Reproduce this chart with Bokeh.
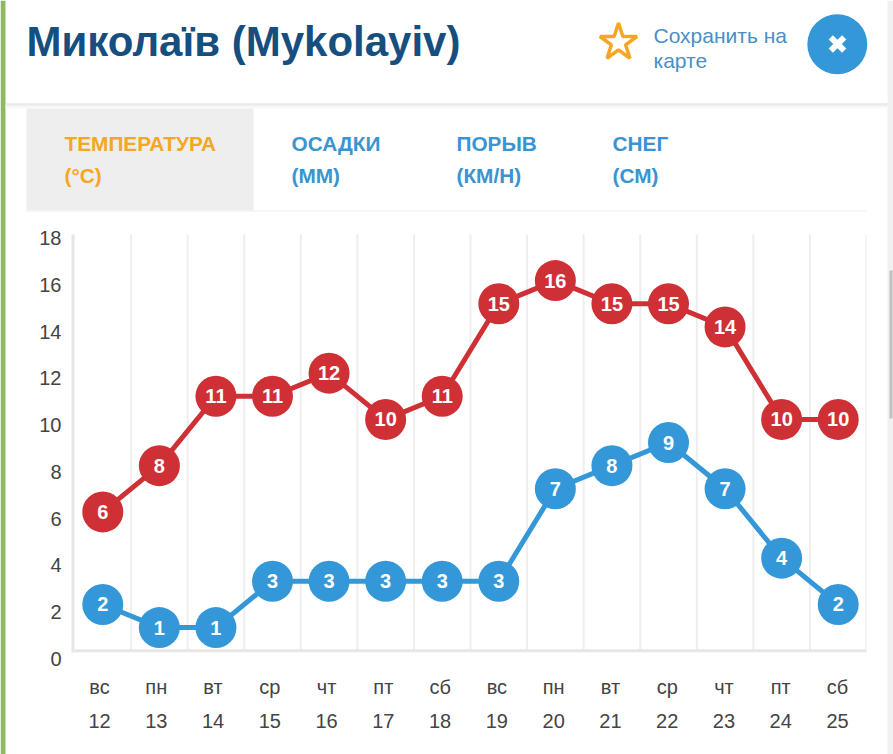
from bokeh.plotting import figure
from bokeh.layouts import column
from bokeh.embed import file_html
from bokeh.resources import INLINE
from bokeh.core.properties import value
from bokeh.models import ColumnDataSource, Range1d, LinearAxis, FixedTicker

# ---- data ----
days = ["вс", "пн", "вт", "ср", "чт", "пт", "сб", "вс", "пн", "вт", "ср", "чт", "пт", "сб"]
dates = ["12", "13", "14", "15", "16", "17", "18", "19", "20", "21", "22", "23", "24", "25"]
temp_max = [6, 8, 11, 11, 12, 10, 11, 15, 16, 15, 15, 14, 10, 10]
temp_min = [2, 1, 1, 3, 3, 3, 3, 3, 7, 8, 9, 7, 4, 2]
y_ticks = [0, 2, 4, 6, 8, 10, 12, 14, 16, 18]
title = "Миколаїв (Mykolayiv)"
save_lines = ["Сохранить на", "карте"]
tabs = [("ТЕМПЕРАТУРА", "(°C)"), ("ОСАДКИ", "(ММ)"), ("ПОРЫВ", "(КМ/Н)"), ("СНЕГ", "(СМ)")]

RED = "#cf3035"
BLUE = "#3498d8"
ORANGE = "#f5a623"
TAB_BLUE = "#3a94d0"
NAVY = "#164e80"
GRID = "#eeeeee"
AXIS = "#e6e6e6"
TXT = "#444444"
FONT = "Liberation Sans"

W, H = 893, 754
F_L, F_R, F_T, F_B = 74, 866, 234, 662     # frame edges in canvas pixels
Y0_PX, PX_PER_UNIT = 650.2, 23.13
YLAB_0, YLAB_18 = 658.5, 237.5             # pixel rows of the first and last y tick label
n = len(days)

# ---- page chrome: a full-page figure in pixel coordinates ----
bg = figure(width=W, height=H, output_backend="svg", toolbar_location=None,
            x_axis_location=None, y_axis_location=None,
            x_range=Range1d(0, W), y_range=Range1d(H, 0),
            min_border=0, outline_line_color=None, frame_align=False,
            background_fill_color="white", border_fill_color="white")
bg.grid.visible = False


def box(l, r, t, b, col):
    bg.quad(left=[l], right=[r], top=[t], bottom=[b], fill_color=col, line_color=None)


def text(s, px, py, size, col, bold=False, align="left"):
    bg.text([px], [py], text=[s], text_font=value(FONT), text_font_size=f"{size}px",
            text_color=col, text_font_style="bold" if bold else "normal",
            text_align=align, text_baseline="middle")


box(0, 5, 0, H, "#8fb85f")
box(887, W, 0, H, "#f1f1f1")
box(889, 892, 270, 418, "#c1c1c1")
for i, c in enumerate(["#dddddd", "#e6e6e6", "#eeeeee", "#f5f5f5", "#fafafa"]):
    box(5, 887, 103 + i, 104 + i, c)
box(26, 253, 108, 210, "#eeeeee")
box(26, 866, 210, 211, "#eeeeee")
box(71, 74, 234, 652, AXIS)

text(title, 26, 41, 42, NAVY, bold=True)
text(save_lines[0], 653, 34.5, 21, "#4a8fc5")
text(save_lines[1], 653, 59.5, 21, "#4a8fc5")
bg.scatter([836.8], [43.8], marker="circle", size=60, fill_color=BLUE, line_color=None)
bg.scatter([837], [43.5], marker="x", size=19, fill_color=None, line_color="white", line_width=6)
bg.scatter([618], [42], marker="star", size=39, fill_color=None, line_color=ORANGE, line_width=3.5)
for (a1, a2), tx, col in zip(tabs, (64, 291, 456, 612), (ORANGE, TAB_BLUE, TAB_BLUE, TAB_BLUE)):
    text(a1, tx, 143, 20.8, col, bold=True)
    text(a2, tx, 175, 20.8, col, bold=True)

# ---- the chart, transparent, on top of the page ----
x = list(range(n))
p = figure(width=W, height=H, output_backend="svg", toolbar_location=None,
           x_axis_location=None, y_axis_location=None,
           x_range=Range1d(-0.5, n - 0.5),
           y_range=Range1d(-(F_B - Y0_PX) / PX_PER_UNIT, (Y0_PX - F_T) / PX_PER_UNIT),
           min_border_left=F_L, min_border_right=W - F_R,
           min_border_top=F_T, min_border_bottom=H - F_B,
           margin=(-H, 0, 0, 0), outline_line_color=None, frame_align=False,
           background_fill_color=None, border_fill_color=None)
p.grid.visible = False

# label scales: tick labels in the original are spaced slightly differently from the data
ylab_scale = (YLAB_0 - YLAB_18) / 18
p.extra_y_ranges = {"ylab": Range1d(-(F_B - YLAB_0) / ylab_scale, 18 + (YLAB_18 - F_T) / ylab_scale)}
p.extra_x_ranges = {"xlab": Range1d((F_L - 99) / 56.77, 13 + (F_R - 837) / 56.77)}

yax = LinearAxis(y_range_name="ylab", ticker=FixedTicker(ticks=y_ticks),
                 axis_line_color=None, major_tick_line_color=None, minor_tick_line_color=None,
                 major_tick_out=0, minor_tick_out=0,
                 major_label_text_font_size="20px", major_label_text_color=TXT,
                 major_label_text_font=FONT, major_label_standoff=13)
p.add_layout(yax, "left")

for labels, standoff in ((days, 13), (dates, 13)):
    ax = LinearAxis(x_range_name="xlab", ticker=FixedTicker(ticks=x[:]),
                    major_label_overrides={i: s for i, s in enumerate(labels)},
                    axis_line_color=None, major_tick_line_color=None, minor_tick_line_color=None,
                    major_tick_out=0, minor_tick_out=0,
                    major_label_text_font_size="20px", major_label_text_color=TXT,
                    major_label_text_font=FONT, major_label_standoff=standoff)
    p.add_layout(ax, "below")

gx = [i - 0.5 for i in range(1, n + 1)]
p.segment(gx, [0] * n, gx, [18.03] * n, line_color=GRID, line_width=2)
p.segment([-0.5], [0], [n - 0.5], [0], line_color=AXIS, line_width=3)

for vals, col in ((temp_max, RED), (temp_min, BLUE)):
    src = ColumnDataSource(dict(x=x, y=vals, t=[str(v) for v in vals]))
    p.line("x", "y", source=src, line_color=col, line_width=5)
    p.scatter("x", "y", source=src, size=41, fill_color=col, line_color=None)
    p.text("x", "y", text="t", source=src, text_color="white", text_align="center",
           text_baseline="middle", text_font=value(FONT), text_font_style="bold",
           text_font_size="20px")

page = column(bg, p, spacing=0)
open("out.html", "w").write(file_html(page, INLINE))
